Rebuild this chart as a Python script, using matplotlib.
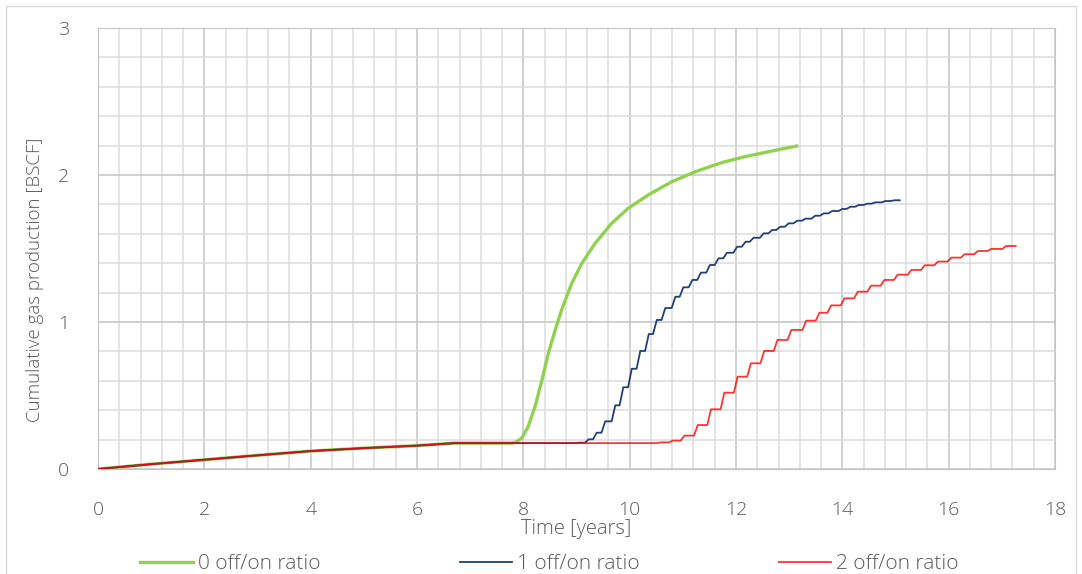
import numpy as np
import matplotlib
matplotlib.use("Agg")
import matplotlib.pyplot as plt
from matplotlib.patches import Rectangle
from matplotlib.ticker import MultipleLocator

# shared early production (all three cases identical until ~7.8 yr)
common_t = [0, 1, 2, 3, 4, 5, 6, 6.7, 7.75]
common_v = [0, 0.033, 0.063, 0.093, 0.122, 0.142, 0.159, 0.176, 0.176]

# 0 off/on ratio - continuous
green_t = [7.84, 7.97, 8.09, 8.22, 8.35, 8.47, 8.60, 8.72, 8.91, 9.10, 9.35,
           9.66, 9.97, 10.35, 10.79, 11.23, 11.73, 12.17, 12.67, 13.14]
green_v = [0.179, 0.209, 0.288, 0.424, 0.605, 0.787, 0.946, 1.082, 1.263, 1.399,
           1.535, 1.671, 1.773, 1.864, 1.954, 2.022, 2.084, 2.125, 2.163, 2.197]

# 1 off/on ratio - step start times and plateau levels
blue_t = [8.97, 9.16, 9.31, 9.47, 9.66, 9.81, 9.97, 10.13, 10.29, 10.44, 10.60,
          10.79, 10.94, 11.11, 11.27, 11.44, 11.60, 11.76, 11.95, 12.11, 12.26,
          12.45, 12.61, 12.76, 12.92, 13.08, 13.24, 13.42, 13.58, 13.74, 13.93,
          14.08, 14.24, 14.40, 14.55, 14.74, 14.91]
blue_v = [0.179, 0.202, 0.247, 0.324, 0.433, 0.556, 0.682, 0.803, 0.918, 1.014,
          1.095, 1.172, 1.236, 1.286, 1.336, 1.388, 1.433, 1.471, 1.512, 1.546,
          1.573, 1.603, 1.626, 1.648, 1.671, 1.689, 1.703, 1.723, 1.739, 1.755,
          1.769, 1.784, 1.796, 1.805, 1.814, 1.823, 1.828]
blue_end = 15.08

# 2 off/on ratio
red_t = [10.52, 10.74, 10.96, 11.21, 11.46, 11.71, 11.96, 12.21, 12.46, 12.71,
         12.97, 13.25, 13.50, 13.72, 13.97, 14.22, 14.47, 14.72, 14.97, 15.23,
         15.48, 15.73, 15.98, 16.23, 16.48, 16.73, 17.01]
red_v = [0.181, 0.193, 0.227, 0.299, 0.406, 0.519, 0.628, 0.719, 0.803, 0.878,
         0.946, 1.009, 1.063, 1.113, 1.161, 1.206, 1.247, 1.286, 1.322, 1.354,
         1.386, 1.411, 1.438, 1.461, 1.483, 1.497, 1.517]
red_end = 17.26

labels = ["0 off/on ratio", "1 off/on ratio", "2 off/on ratio"]
rise = 0.07


def stepped(t0, v0, starts, levels, t_end):
    xs = list(t0)
    ys = list(v0)
    prev = v0[-1]
    for s, lv in zip(starts, levels):
        xs += [s, s + rise]
        ys += [prev, lv]
        prev = lv
    xs.append(t_end)
    ys.append(prev)
    return xs, ys


plt.rcParams['font.family'] = ['Open Sans', 'DejaVu Sans']
plt.rcParams['font.weight'] = 'light'
plt.rcParams['axes.labelweight'] = 'light'
txt = '#595959'

fig = plt.figure(figsize=(10.82, 5.74), dpi=100)
ax = fig.add_axes([98/1082, 105/574, 957/1082, 441/574])

ax.xaxis.set_major_locator(MultipleLocator(2))
ax.xaxis.set_minor_locator(MultipleLocator(0.4))
ax.yaxis.set_major_locator(MultipleLocator(1))
ax.yaxis.set_minor_locator(MultipleLocator(0.2))
ax.grid(which='major', color='#C4C4C4', lw=1.1, zorder=0)
ax.grid(which='minor', color='#DCDCDC', lw=1.1, zorder=0)
ax.set_axisbelow(True)
ax.tick_params(which='both', length=0)
ax.tick_params(axis='x', pad=23, labelsize=14, labelcolor=txt)
ax.tick_params(axis='y', pad=21, labelsize=14, labelcolor=txt)
for sp in ax.spines.values():
    sp.set_color('#C4C4C4')

gx = common_t + green_t
gy = common_v + green_v
bx, by = stepped(common_t, common_v, blue_t, blue_v, blue_end)
rx, ry = stepped(common_t, common_v, red_t, red_v, red_end)

ax.plot(gx, gy, color='#92D050', lw=2.4, label=labels[0], zorder=3,
        solid_joinstyle='round')
ax.plot(bx, by, color='#213F78', lw=1.3, label=labels[1], zorder=4)
ax.plot(rx, ry, color='#FF0000', lw=1.3, alpha=0.8, label=labels[2], zorder=5)

ax.set_xlim(0, 18)
ax.set_ylim(0, 3)
ax.set_xlabel("Time [years]", fontsize=14.5, color=txt)
ax.xaxis.set_label_coords(0.5, -0.113)
ax.set_ylabel("Cumulative gas production [BSCF]", fontsize=13.5, color=txt)
ax.yaxis.set_label_coords(-0.056, 0.43)

fig.legend(loc='center left', bbox_to_anchor=(130/1082, 10/574), ncol=3,
           frameon=False, borderpad=0, fontsize=15, labelcolor=txt,
           handlelength=2.5, handletextpad=0.24, columnspacing=6.7)

fig.patches.append(Rectangle((6/1082, -0.01), 1070/1082, 1.0, fill=False,
                             edgecolor='#D9D9D9', lw=1, transform=fig.transFigure))

fig.savefig("out.png", dpi=100)
